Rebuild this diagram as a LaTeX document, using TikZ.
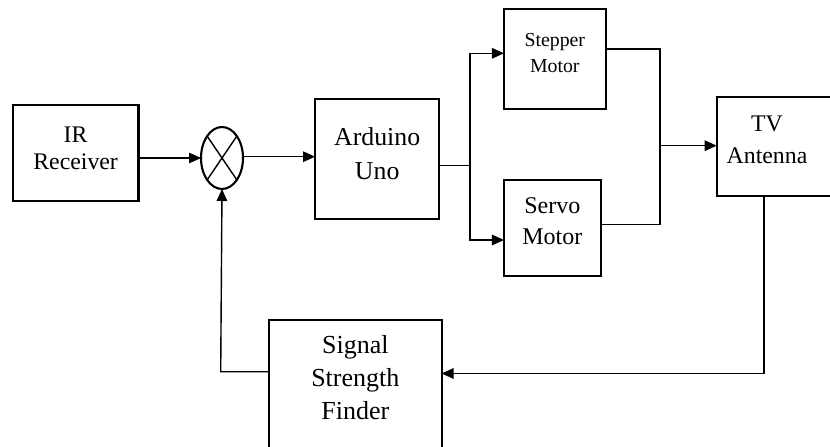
\documentclass[tikz,border=0pt]{standalone}
\usepackage{fontspec}
\setmainfont{Liberation Serif}
\usetikzlibrary{arrows.meta,shapes.geometric}

\tikzset{
  block/.style={draw, line width=2.1pt, rectangle, inner sep=0pt, outer sep=0pt},
  lbl/.style={align=center, inner sep=0pt},
  wire/.style={line width=1.4pt},
  flow/.style={wire, -{Triangle[length=12pt,width=10.5pt]}},
}

\begin{document}
\begin{tikzpicture}[x=1pt, y=-1pt]
  \useasboundingbox (0,0) rectangle (830,447);
  \clip (0,0) rectangle (830,447);

  % blocks
  \node[block, minimum width=125.8pt, minimum height=96pt] (ir) at (75.6,153) {};
  \node[block, ellipse, minimum width=42pt, minimum height=62pt] (sum) at (222,158) {};
  \node[block, minimum width=124.3pt, minimum height=120pt] (ard) at (377.2,159.3) {};
  \node[block, minimum width=101.7pt, minimum height=99.7pt] (stp) at (554.8,58.8) {};
  \node[block, minimum width=96.7pt, minimum height=96pt] (srv) at (552.3,228) {};
  \node[block, minimum width=120pt, minimum height=99pt] (tv) at (776.7,146.2) {};
  \node[block, minimum width=172.7pt, minimum height=150pt] (sig) at (355.3,395) {};

  % cross inside the summing junction
  \draw[line width=1.4pt] (sum.north west) -- (sum.south east);
  \draw[line width=1.4pt] (sum.north east) -- (sum.south west);

  % labels
  \node[lbl, font=\fontsize{23.8}{27}\selectfont] (irt) at ([yshift=5pt]ir.center) {IR\\Receiver};
  \node[lbl, font=\fontsize{25.8}{34}\selectfont] (ardt) at ([yshift=6pt]ard.center) {Arduino\\Uno};
  \node[lbl, font=\fontsize{19.8}{26}\selectfont] (stpt) at ([yshift=6pt]stp.center) {Stepper\\Motor};
  \node[lbl, font=\fontsize{24}{31.5}\selectfont] (srvt) at ([yshift=7pt]srv.center) {Servo\\Motor};
  \node[lbl, font=\fontsize{23.8}{32}\selectfont] (tvt) at (767,139.4) {TV\\Antenna};
  \node[lbl, font=\fontsize{26}{33}\selectfont] (sigt) at (355.3,378) {Signal\\Strength\\Finder};

  % junction points
  \coordinate (split) at (470,165.7);
  \coordinate (merge) at (660,145.7);
  \coordinate (tvdown) at (764,373.5);
  \coordinate (fbup) at (220.7,371.7);

  % forward path
  \draw[flow] (ir.east |- sum.west) -- (sum.west);
  \draw[flow] (sum.east |- 0,156.7) -- (ard.west |- 0,156.7);
  \draw[wire] (ard.east |- split) -- (split);
  \draw[flow] (split) |- (stp.west |- 0,53.3);
  \draw[flow] (split) |- (srv.west |- 0,240);
  \draw[wire] (stp.east |- 0,49) -| (merge);
  \draw[wire] (srv.east |- 0,224.3) -| (merge);
  \draw[flow] (merge) -- (tv.west |- merge);

  % feedback path
  \draw[wire] (tvdown |- tv.south) -- (tvdown);
  \draw[flow] (tvdown) -- (sig.east |- tvdown);
  \draw[flow] (sig.west |- fbup) -- (fbup) -- (sum.south);
\end{tikzpicture}
\end{document}
